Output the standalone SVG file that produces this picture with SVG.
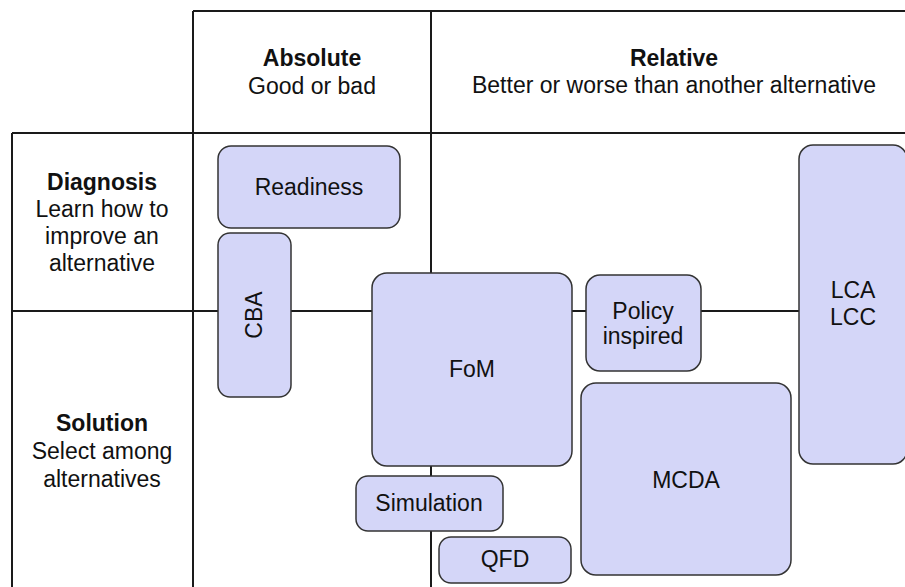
<svg xmlns="http://www.w3.org/2000/svg" width="905" height="587" viewBox="0 0 905 587">
<style>
.grid{stroke:#1a1a1a;stroke-width:2;fill:none}
.box{fill:#d4d6f8;stroke:#333;stroke-width:1.5}
text{font-family:"Liberation Sans",Arial,sans-serif;font-size:23px;fill:#111;text-anchor:middle}
.b{font-weight:bold}
</style>
<rect width="905" height="587" fill="#fff"/>
<g id="connectors">
<path class="grid" d="M193,11H905M193,11V587M431,11V587M12,133H905M12,133V587M12,311H905"/>
</g>
<g id="header-absolute"><text class="b" x="312" y="66">Absolute</text><text x="312" y="94">Good or bad</text></g>
<g id="header-relative"><text class="b" x="674" y="66">Relative</text><text x="674" y="93">Better or worse than another alternative</text></g>
<g id="row-diagnosis"><text class="b" x="102" y="190">Diagnosis</text><text x="102" y="217">Learn how to</text><text x="102" y="244">improve an</text><text x="102" y="271">alternative</text></g>
<g id="row-solution"><text class="b" x="102" y="431">Solution</text><text x="102" y="459">Select among</text><text x="102" y="487">alternatives</text></g>
<g id="readiness"><rect class="box" x="218" y="146" width="182" height="82" rx="13"/><text x="309" y="195">Readiness</text></g>
<g id="cba"><rect class="box" x="218" y="233" width="73" height="164" rx="12"/><text transform="translate(262,315) rotate(-90)">CBA</text></g>
<g id="fom"><rect class="box" x="372" y="273" width="200" height="193" rx="15"/><text x="472" y="377">FoM</text></g>
<g id="policy"><rect class="box" x="586" y="275" width="115" height="96" rx="14"/><text x="643" y="319">Policy</text><text x="643" y="344">inspired</text></g>
<g id="mcda"><rect class="box" x="581" y="383" width="210" height="192" rx="15"/><text x="686" y="488">MCDA</text></g>
<g id="simulation"><rect class="box" x="356" y="476" width="147" height="55" rx="12"/><text x="429" y="511">Simulation</text></g>
<g id="qfd"><rect class="box" x="439" y="537" width="132" height="46" rx="12"/><text x="505" y="567">QFD</text></g>
<g id="lca-lcc"><rect class="box" x="799" y="145" width="108" height="319" rx="14"/><text x="853" y="298">LCA</text><text x="853" y="325">LCC</text></g>
</svg>
